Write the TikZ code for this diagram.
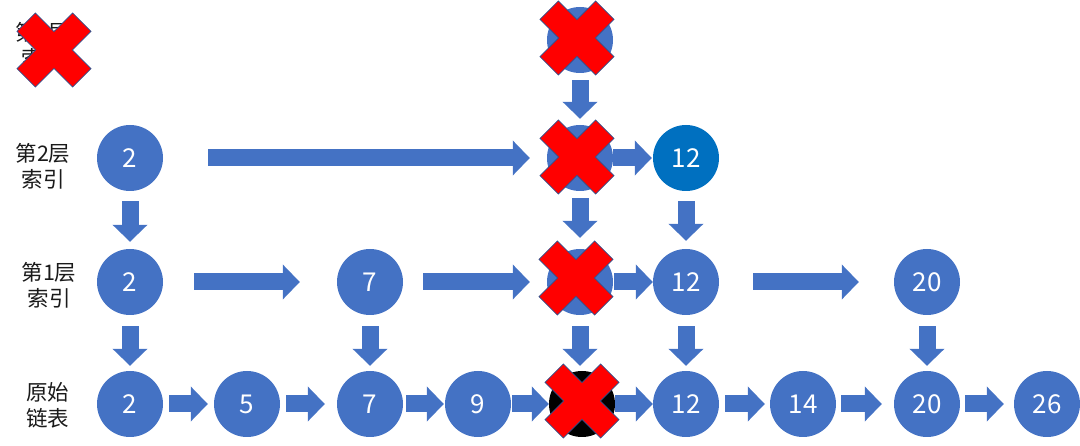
\documentclass[tikz,border=0pt]{standalone}
\usepackage{fontspec}
\setmainfont{Noto Sans CJK SC}
\usetikzlibrary{arrows.meta}
\definecolor{obl}{HTML}{4472C4}
\definecolor{dbl}{HTML}{0070C0}
\definecolor{xol}{HTML}{2F528F}
\definecolor{txt}{HTML}{1A1A1A}
\newcommand{\redcross}[1]{%
  \draw[xmark, shift={#1}] (0,18.4) -- (18.6,37) -- (37,18.6) -- (18.4,0) -- (37,-18.6) -- (18.6,-37) -- (0,-18.4) -- (-18.6,-37) -- (-37,-18.6) -- (-18.4,0) -- (-37,18.6) -- (-18.6,37) -- cycle;}
\begin{document}
\begin{tikzpicture}[x=1pt,y=-1pt,
  nd/.style={circle, minimum size=66pt, inner sep=0pt, fill=obl, text=white, font=\fontsize{26}{30}\selectfont},
  lbl/.style={align=center, font=\fontsize{21.5}{26}\selectfont, text=txt, inner sep=0pt},
  barrow/.style={obl, line width=17pt, -{Triangle[length=17pt,width=34pt]}},
  xmark/.style={fill=red, draw=xol, line width=0.8pt, line join=miter}]
\useasboundingbox (0,0) rectangle (1080,446);
% labels
\node[lbl] (l3) at (43,45) {第3层\\索引};
\node[lbl] (l2) at (43,166) {第2层\\索引};
\node[lbl] (l1) at (49,285) {第1层\\索引};
\node[lbl] (l0) at (48,405) {原始\\链表};
% level 3
\node[nd] (r3x) at (580,40) {};
% level 2
\node[nd] (r2a) at (130,158) {2};
\node[nd] (r2x) at (580,158) {};
\node[nd, fill=dbl] (r2b) at (686,158) {12};
% level 1
\node[nd] (r1a) at (130,282) {2};
\node[nd] (r1b) at (370,282) {7};
\node[nd] (r1x) at (580,282) {};
\node[nd] (r1c) at (686,282) {12};
\node[nd] (r1d) at (927,282) {20};
% level 0
\node[nd] (r0a) at (130,404) {2};
\node[nd] (r0b) at (247,404) {5};
\node[nd] (r0c) at (370,404) {7};
\node[nd] (r0d) at (478,404) {9};
\node[nd, fill=black] (r0x) at (582,404) {};
\node[nd] (r0e) at (686,404) {12};
\node[nd] (r0f) at (803,404) {14};
\node[nd] (r0g) at (927,404) {20};
\node[nd] (r0h) at (1047,404) {26};
% horizontal arrows
\draw[barrow, shorten <=45pt, shorten >=17pt] (r2a) -- (r2x);
\draw[barrow, shorten <=0pt, shorten >=1pt] (r2x) -- (r2b);
\draw[barrow, shorten <=31pt, shorten >=37pt] (r1a) -- (r1b);
\draw[barrow, shorten <=20pt, shorten >=17pt] (r1b) -- (r1x);
\draw[barrow, shorten <=1pt, shorten >=0pt] (r1x) -- (r1c);
\draw[barrow, shorten <=34pt, shorten >=35pt] (r1c) -- (r1d);
\draw[barrow, shorten <=6pt, shorten >=6pt] (r0a) -- (r0b);
\draw[barrow, shorten <=6pt, shorten >=12pt] (r0b) -- (r0c);
\draw[barrow, shorten <=3pt, shorten >=1pt] (r0c) -- (r0d);
\draw[barrow, shorten <=1pt, shorten >=0pt] (r0d) -- (r0x);
\draw[barrow, shorten <=0pt, shorten >=0pt] (r0x) -- (r0e);
\draw[barrow, shorten <=6pt, shorten >=5pt] (r0e) -- (r0f);
\draw[barrow, shorten <=5pt, shorten >=12pt] (r0f) -- (r0g);
\draw[barrow, shorten <=5pt, shorten >=10pt] (r0g) -- (r0h);
% vertical arrows
\draw[barrow, shorten <=7pt, shorten >=6pt] (r3x) -- (r2x);
\draw[barrow, shorten <=10pt, shorten >=7pt] (r2a) -- (r1a);
\draw[barrow, shorten <=7pt, shorten >=11pt] (r2x) -- (r1x);
\draw[barrow, shorten <=10pt, shorten >=8pt] (r2b) -- (r1c);
\draw[barrow, shorten <=11pt, shorten >=5pt] (r1a) -- (r0a);
\draw[barrow, shorten <=11pt, shorten >=5pt] (r1b) -- (r0c);
\draw[barrow, shorten <=11pt, shorten >=5pt] (r1x.south) -- (r1x.south |- r0x.north);
\draw[barrow, shorten <=11pt, shorten >=5pt] (r1c) -- (r0e);
\draw[barrow, shorten <=11pt, shorten >=5pt] (r1d) -- (r0g);
% red crosses
\redcross{(54,50)}
\redcross{(577,38)}
\redcross{(577,157)}
\redcross{(576,278)}
\redcross{(582,401)}
\end{tikzpicture}
\end{document}
